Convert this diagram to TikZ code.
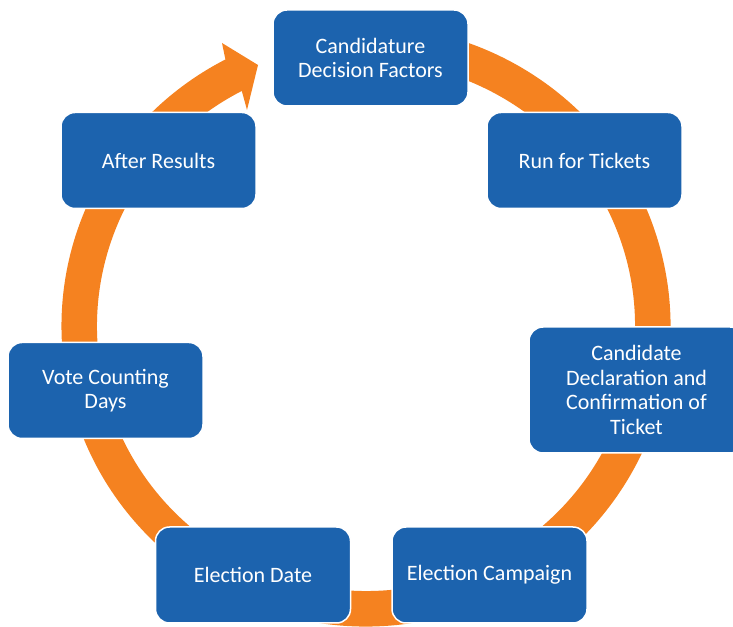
\documentclass[tikz,border=0pt]{standalone}
\usepackage{fontspec}
\setmainfont{Carlito}
\definecolor{stageblue}{RGB}{28,99,174}
\definecolor{ringorange}{RGB}{245,130,32}
\tikzset{
    stage/.style = {rectangle, rounded corners = 14pt, fill = stageblue, draw = white, line width = 1.5pt,
        text = white, align = center, minimum width = 195pt, minimum height = 96pt,
        font = \fontsize{22}{24.5}\selectfont}
}

\begin{document}
\begin{tikzpicture}[x = 1pt, y = 1pt]
    \useasboundingbox (0,0) rectangle (733,626);
    \clip (0,0) rectangle (733,626);
    % ring with its arrow head, centre at (366,300)
    \begin{scope}[shift = {(366,300)}]
    \fill[ringorange]
    (104:304.5pt and 300.5pt) arc[start angle = 104, end angle = -242.5, x radius = 304.5pt, y radius = 300.5pt]
    -- (-144,283) -- (-108,261) -- (-119,216)
    -- (-242.5:269pt and 265pt) arc[start angle = -242.5, end angle = 104, x radius = 269pt, y radius = 265pt]
    -- cycle;
    \end{scope}
    % stages
    \node[stage] (cand) at (370.5,568) {Candidature\\Decision Factors};
    \node[stage] (run) at (584.5,465.5) {Run for Tickets};
    \node[stage, minimum width = 215pt, minimum height = 126pt] (decl) at (636.5,236) {Candidate\\Declaration and\\Confirmation of\\Ticket};
    \node[stage] (camp) at (489.5,51) {Election Campaign};
    \node[stage] (edate) at (253,51) {Election Date};
    \node[stage] (count) at (105.5,235.5) {Vote Counting\\Days};
    \node[stage] (after) at (158.5,465.5) {After Results};
\end{tikzpicture}
\end{document}
